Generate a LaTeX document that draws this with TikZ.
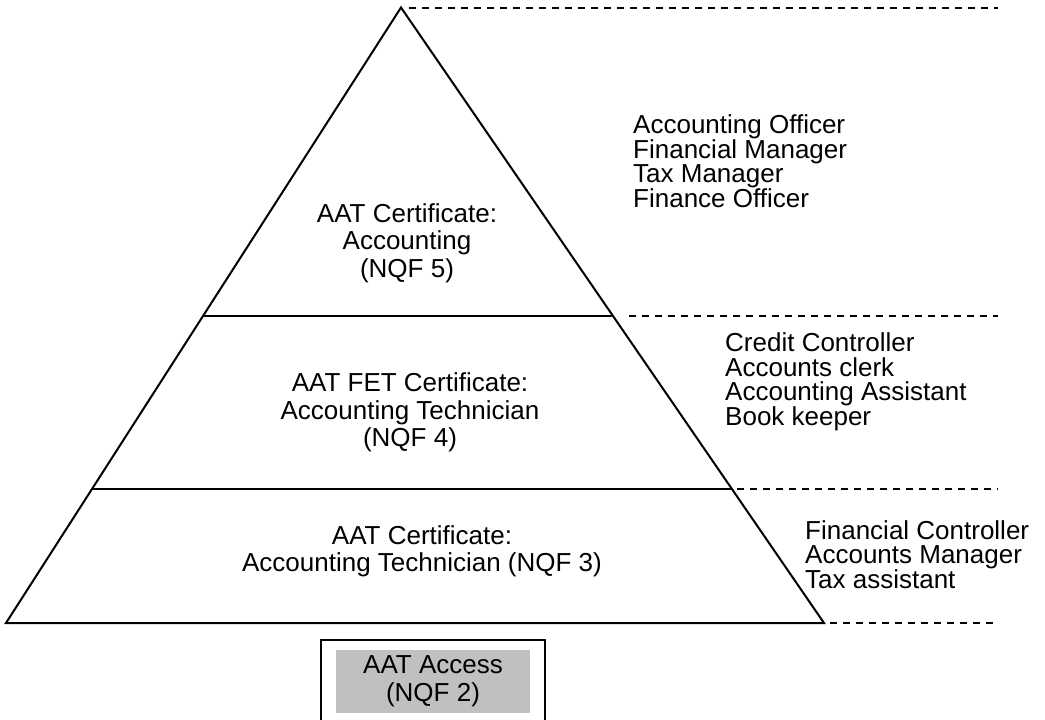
\documentclass[tikz,border=0pt]{standalone}
\usepackage{fontspec}
\setmainfont{Liberation Sans}
\usetikzlibrary{calc}
\definecolor{boxgrey}{RGB}{192,192,192}
\begin{document}
\begin{tikzpicture}[x=1pt,y=-1pt,
  edge/.style={line width=2pt},
  guide/.style={line width=2pt, dash pattern=on 7pt off 6pt},
  % multi-line nodes anchor on the baseline of their last line
  tiertext/.style={font=\fontsize{26}{27.6}\selectfont, inner sep=0pt, align=center, anchor=base},
  rolelist/.style={font=\fontsize{26}{24.7}\selectfont, inner sep=0pt, align=left, anchor=base west}]
\useasboundingbox (0,0) rectangle (1045,720);

% pyramid outline
\coordinate (apex) at (401,7.5);
\coordinate (bl) at (6,623);
\coordinate (br) at (824,623);
\draw[edge] (bl) -- (apex) -- (br) -- cycle;

% tier dividers
\coordinate (l1) at ($(apex)!0.5012!(bl)$);
\coordinate (r1) at ($(apex)!0.5012!(br)$);
\coordinate (l2) at ($(apex)!0.7823!(bl)$);
\coordinate (r2) at ($(apex)!0.7823!(br)$);
\draw[edge] (l1) -- (r1);
\draw[edge] (l2) -- (r2);

% dashed level guides
\coordinate (g0s) at (409,7.5);  \coordinate (g0e) at (998,7.5);
\coordinate (g1s) at (629,316);  \coordinate (g1e) at (998,316);
\coordinate (g2s) at (737,489);  \coordinate (g2e) at (998,489);
\coordinate (g3s) at (830,623);  \coordinate (g3e) at (998,623);
\draw[guide] (g0s) -- (g0e);
\draw[guide] (g1s) -- (g1e);
\draw[guide] (g2s) -- (g2e);
\draw[guide] (g3s) -- (g3e);

% qualification tiers
\node[tiertext] (nqf5) at (407,277.5) {AAT Certificate:\\Accounting\\(NQF 5)};
\node[tiertext] (nqf4) at (410,446.7) {AAT FET Certificate:\\Accounting Technician\\(NQF 4)};
\node[tiertext] (nqf3) at (422,571.7) {AAT Certificate:\\Accounting Technician (NQF 3)};

% job roles per level
\node[rolelist] (jobs5) at (633,207.5) {Accounting Officer\\Financial Manager\\Tax Manager\\Finance Officer};
\node[rolelist] (jobs4) at (725,425.5) {Credit Controller\\Accounts clerk\\Accounting Assistant\\Book keeper};
\node[rolelist] (jobs3) at (805,588.5) {Financial Controller\\Accounts Manager\\Tax assistant};

% entry level box
\node[fill=boxgrey, minimum width=194pt, minimum height=63pt, inner sep=0pt] (accessbg) at (433,681.5) {};
\node[tiertext, anchor=center, font=\fontsize{26}{28}\selectfont] (access) at (accessbg.center) {AAT Access\\(NQF 2)};
\coordinate (fbl) at (321,722);
\coordinate (ftl) at (321,640);
\coordinate (ftr) at (545,640);
\coordinate (fbr) at (545,722);
\draw[edge] (fbl) -- (ftl) -- (ftr) -- (fbr);
\end{tikzpicture}
\end{document}
